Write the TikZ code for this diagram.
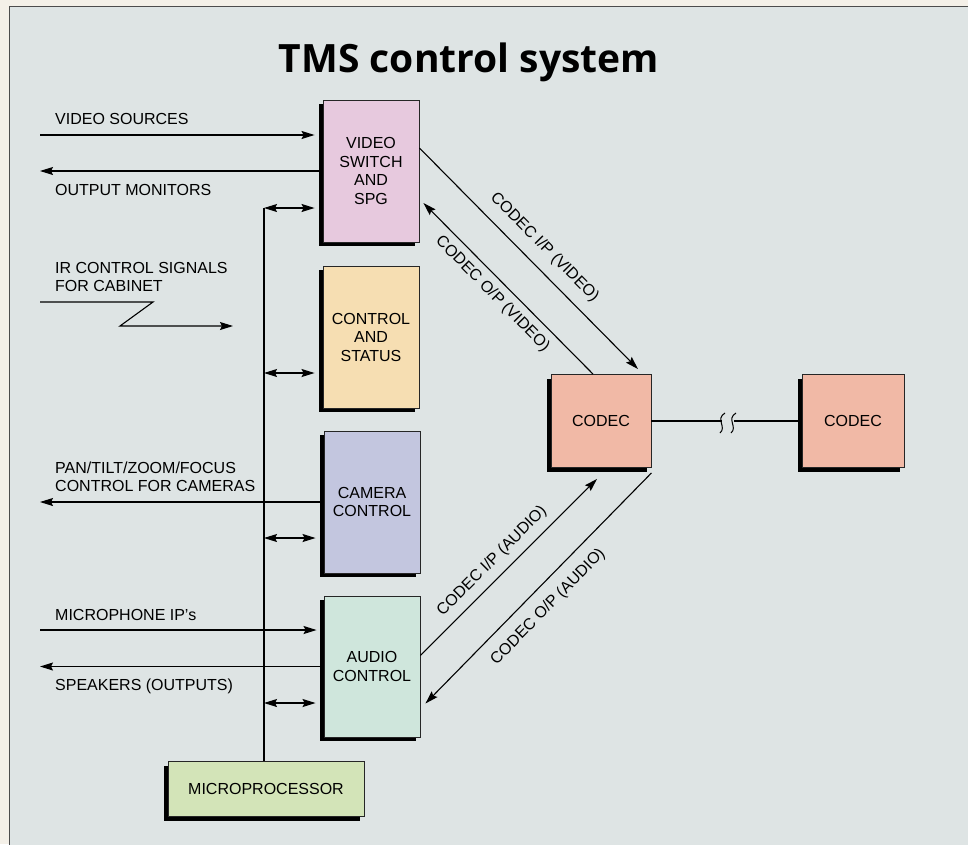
\documentclass[tikz,border=0pt]{standalone}
\usepackage{fontspec}
\setmainfont{Liberation Sans}
\newfontfamily\titlefont{Open Sans}
\usetikzlibrary{arrows.meta,shadows,calc}
\definecolor{bgc}{HTML}{DEE4E4}
\definecolor{marg}{HTML}{F4F0E8}
\definecolor{vsc}{HTML}{E7C9DE}
\definecolor{csc}{HTML}{F6DEB2}
\definecolor{ccc}{HTML}{C3C6DF}
\definecolor{acc}{HTML}{CFE6DC}
\definecolor{mpc}{HTML}{D3E4B8}
\definecolor{cdc}{HTML}{F1B9A6}
\tikzset{
  blk/.style={draw=black!85, line width=0.9pt, inner sep=0pt, align=center,
    font=\fontsize{16}{18.5}\selectfont,
    drop shadow={shadow xshift=-4pt, shadow yshift=-4pt, fill=black, opacity=1}},
  tall/.style={blk, minimum width=96pt, minimum height=142pt},
  arr/.style={line width=1.1pt, -{Stealth[length=13pt,width=8pt,inset=2pt]}},
  dbl/.style={line width=1.1pt, {Stealth[length=13pt,width=8pt,inset=2pt]}-{Stealth[length=13pt,width=8pt,inset=2pt]}},
  lbl/.style={font=\fontsize{16}{18.5}\selectfont, anchor=base west, inner sep=0pt},
  dlbl/.style={font=\fontsize{16}{18.5}\selectfont, sloped, inner sep=0pt}
}
\begin{document}
\begin{tikzpicture}[x=1pt,y=-1pt]
\useasboundingbox (0,0) rectangle (968,844);
\fill[marg] (0,0) rectangle (968,844);
\filldraw[fill=bgc, draw=black!70, line width=1pt] (9,6) rectangle (980,860);

\node[font=\titlefont\bfseries\fontsize{39}{44}\selectfont, anchor=base] (title) at (469,72) {TMS control system};

% boxes
\node[tall, fill=vsc] (vs) at (371,171) {VIDEO\\SWITCH\\AND\\SPG};
\node[tall, fill=csc] (cs) at (371,337) {CONTROL\\AND\\STATUS};
\node[tall, fill=ccc] (cc) at (372,502) {CAMERA\\CONTROL};
\node[tall, fill=acc, minimum height=141pt] (ac) at (372,666.5) {AUDIO\\CONTROL};
\node[blk, fill=mpc, minimum width=196pt, minimum height=55pt] (mp) at (266,789) {MICROPROCESSOR};
\node[blk, fill=cdc, minimum width=100pt, minimum height=93pt] (c1) at (601,421) {CODEC};
\node[blk, fill=cdc, minimum width=102pt, minimum height=93pt] (c2) at (853,421) {CODEC};

% left labels
\node[lbl] (l1) at (55,124) {VIDEO SOURCES};
\node[lbl] (l2) at (55,195) {OUTPUT MONITORS};
\node[lbl] (l3) at (55,273) {IR CONTROL SIGNALS};
\node[lbl] (l4) at (55,291) {FOR CABINET};
\node[lbl] (l5) at (55,473) {PAN/TILT/ZOOM/FOCUS};
\node[lbl] (l6) at (55,491) {CONTROL FOR CAMERAS};
\node[lbl] (l7) at (55,620) {MICROPHONE IP's};
\node[lbl] (l8) at (55,690) {SPEAKERS (OUTPUTS)};

% left connectors
\coordinate (vsrc) at (40,135);
\coordinate (omon) at (40,171);
\coordinate (ir0) at (40,302);
\coordinate (ir3) at (233,326);
\coordinate (ptz) at (40,502);
\coordinate (mic) at (40,630);
\coordinate (spk) at (40,666.5);
\draw[arr] (vsrc) -- ([xshift=-8pt]vsrc -| vs.west);
\draw[arr] (vs.west) -- (omon);
\draw[arr] (ir0) -- (153,302) -- (120,326) -- (ir3);
\draw[arr] (cc.west) -- (ptz);
\draw[arr] (mic) -- ([xshift=-7pt]mic -| ac.west);
\draw[arr] (ac.west) -- (spk);

% bus
\coordinate (b1) at (264,208);
\coordinate (b2) at (264,373);
\coordinate (b3) at (264,538);
\coordinate (b4) at (264,703);
\draw[line width=1.1pt] (b1) -- (b1 |- mp.north);
\draw[dbl] (b1) -- ([xshift=-8pt]b1 -| vs.west);
\draw[dbl] (b2) -- ([xshift=-8pt]b2 -| cs.west);
\draw[dbl] (b3) -- ([xshift=-8pt]b3 -| cc.west);
\draw[dbl] (b4) -- ([xshift=-8pt]b4 -| ac.west);

% diagonals
\draw[arr] ([yshift=23pt]vs.east) -- ([xshift=37pt,yshift=5pt]c1.north)
  node[dlbl, pos=0.51, above=11pt] {CODEC I/P (VIDEO)};
\draw[arr] ([xshift=-8pt]c1.north) -- ([xshift=4pt,yshift=-32pt]vs.east)
  node[dlbl, pos=0.53, below=7pt] {CODEC O/P (VIDEO)};
\draw[arr] ([yshift=11pt]ac.east) -- ([xshift=-4pt,yshift=-11pt]c1.south)
  node[dlbl, pos=0.47, above=8pt] {CODEC I/P (AUDIO)};
\draw[arr] ([yshift=-5pt]c1.south east) -- ([xshift=5pt,yshift=-37pt]ac.east)
  node[dlbl, pos=0.52, below=12pt] {CODEC O/P (AUDIO)};

% link with break
\coordinate (k1) at (722,421);
\coordinate (k2) at (734,421);
\draw[line width=1.1pt] (c1.east) -- (k1);
\draw[line width=1.1pt] (k2) -- (c2.west);
\draw[line width=1pt] (725,413) .. controls (715,419) and (727,427) .. (720,433);
\draw[line width=1pt] (736,413) .. controls (726,419) and (738,427) .. (731,433);
\end{tikzpicture}
\end{document}
